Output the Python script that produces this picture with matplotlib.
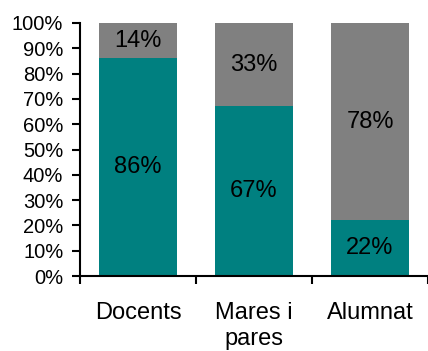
import numpy as np
import matplotlib
matplotlib.use("Agg")
import matplotlib.pyplot as plt
from matplotlib.ticker import FixedLocator, PercentFormatter

categories = ["Docents", "Mares i\npares", "Alumnat"]
bottom_vals = [86, 67, 22]   # teal
top_vals = [14, 33, 78]      # gray

plt.rcParams['font.family'] = ['Liberation Sans', 'DejaVu Sans']

fig = plt.figure(figsize=(4.28, 3.51), dpi=100)
ax = fig.add_axes([80 / 428, 75 / 351, 348 / 428, 253 / 351])

x = np.arange(len(categories)) + 0.5
ax.bar(x, bottom_vals, width=0.67, color="#008080")
ax.bar(x, top_vals, width=0.67, bottom=bottom_vals, color="#808080")

for xi, b, t in zip(x, bottom_vals, top_vals):
    ax.text(xi, b / 2, f"{b}%", ha="center", va="center", fontsize=17)
    ax.text(xi, b + t / 2, f"{t}%", ha="center", va="center", fontsize=17)

ax.set_xlim(0, 3)
ax.set_ylim(0, 100)
ax.set_yticks(np.arange(0, 101, 10))
ax.yaxis.set_major_formatter(PercentFormatter(decimals=0))
ax.tick_params(axis="y", direction="out", length=6, width=1.5, labelsize=14.5, pad=6)

ax.xaxis.set_major_locator(FixedLocator([0, 1, 2, 3]))
ax.xaxis.set_minor_locator(FixedLocator(list(x)))
ax.set_xticklabels([], minor=False)
ax.set_xticklabels(categories, minor=True, fontsize=17, linespacing=1.2)
ax.tick_params(axis="x", which="major", direction="out", length=6, width=1.5)
ax.tick_params(axis="x", which="minor", length=0, pad=19)

for s in ["top", "right"]:
    ax.spines[s].set_visible(False)
for s in ["left", "bottom"]:
    ax.spines[s].set_linewidth(1.5)

fig.savefig("out.png", dpi=100)
